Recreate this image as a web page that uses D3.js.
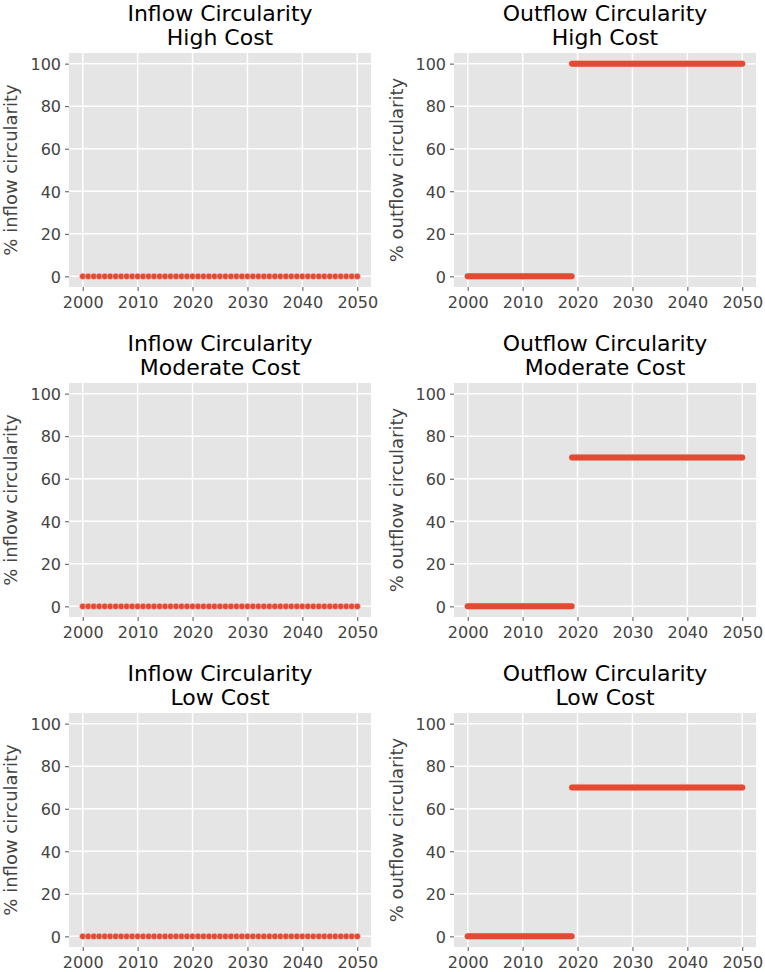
<!DOCTYPE html>
<html>
<head>
<meta charset="utf-8">
<script src="https://cdn.jsdelivr.net/npm/d3@7"></script>
<style>
  body { margin: 0; background: #fff; }
  svg { display: block; font-family: 'DejaVu Sans', sans-serif; }
</style>
</head>
<body>
<svg id="chart"></svg>
<script>
// years shown on every panel
const years = [
  2000, 2001, 2002, 2003, 2004, 2005, 2006, 2007, 2008, 2009,
  2010, 2011, 2012, 2013, 2014, 2015, 2016, 2017, 2018, 2019,
  2020, 2021, 2022, 2023, 2024, 2025, 2026, 2027, 2028, 2029,
  2030, 2031, 2032, 2033, 2034, 2035, 2036, 2037, 2038, 2039,
  2040, 2041, 2042, 2043, 2044, 2045, 2046, 2047, 2048, 2049, 2050
];

const inflowHigh = [
  0, 0, 0, 0, 0, 0, 0, 0, 0, 0, 0, 0, 0, 0, 0, 0, 0, 0, 0, 0, 0, 0, 0, 0, 0,
  0, 0, 0, 0, 0, 0, 0, 0, 0, 0, 0, 0, 0, 0, 0, 0, 0, 0, 0, 0, 0, 0, 0, 0, 0, 0
];
const inflowModerate = [
  0, 0, 0, 0, 0, 0, 0, 0, 0, 0, 0, 0, 0, 0, 0, 0, 0, 0, 0, 0, 0, 0, 0, 0, 0,
  0, 0, 0, 0, 0, 0, 0, 0, 0, 0, 0, 0, 0, 0, 0, 0, 0, 0, 0, 0, 0, 0, 0, 0, 0, 0
];
const inflowLow = [
  0, 0, 0, 0, 0, 0, 0, 0, 0, 0, 0, 0, 0, 0, 0, 0, 0, 0, 0, 0, 0, 0, 0, 0, 0,
  0, 0, 0, 0, 0, 0, 0, 0, 0, 0, 0, 0, 0, 0, 0, 0, 0, 0, 0, 0, 0, 0, 0, 0, 0, 0
];

// outflow is sampled densely, so it is kept as [start, end, value] runs
const outflowHigh = [[2000, 2018.92, 0], [2019, 2050, 100]];
const outflowModerate = [[2000, 2018.92, 0], [2019, 2050, 70]];
const outflowLow = [[2000, 2018.92, 0], [2019, 2050, 70]];

const costLabels = ['High Cost', 'Moderate Cost', 'Low Cost'];
const xTicks = [2000, 2010, 2020, 2030, 2040, 2050];
const yTicks = [0, 20, 40, 60, 80, 100];

const inflowSeries = [inflowHigh, inflowModerate, inflowLow];
const outflowSeries = [outflowHigh, outflowModerate, outflowLow];

const RED = '#E24A33';

const config = {
  width: 765,
  height: 972,
  colLeft: [69, 454],
  colWidth: 302,
  rowTop: [53, 383, 713],
  plotHeight: 234,
  ylabelX: [11, 397]
};

createPanels(config);

function createPanels(config) {
  const svg = d3.select('#chart')
    .attr('width', config.width)
    .attr('height', config.height);

  config.rowTop.forEach((top, row) => {
    drawPanel(svg, config, {
      left: config.colLeft[0], top,
      title: ['Inflow Circularity', costLabels[row]],
      ylabel: '% inflow circularity',
      ylabelX: config.ylabelX[0],
      kind: 'points',
      data: inflowSeries[row]
    });
    drawPanel(svg, config, {
      left: config.colLeft[1], top,
      title: ['Outflow Circularity', costLabels[row]],
      ylabel: '% outflow circularity',
      ylabelX: config.ylabelX[1],
      kind: 'runs',
      data: outflowSeries[row]
    });
  });
}

function drawPanel(svg, config, panel) {
  const w = config.colWidth;
  const h = config.plotHeight;
  const x = d3.scaleLinear().domain([1997.5, 2052.5]).range([0, w]);
  const y = d3.scaleLinear().domain([-5, 105]).range([h, 0]);

  const g = svg.append('g')
    .attr('transform', `translate(${panel.left},${panel.top})`);

  g.append('rect')
    .attr('width', w)
    .attr('height', h)
    .attr('fill', '#E5E5E5');

  // grid
  g.selectAll('.xgrid')
    .data(xTicks)
    .enter()
    .append('line')
    .attr('x1', d => x(d)).attr('x2', d => x(d))
    .attr('y1', 0).attr('y2', h)
    .attr('stroke', '#fff')
    .attr('stroke-width', 1.5);
  g.selectAll('.ygrid')
    .data(yTicks)
    .enter()
    .append('line')
    .attr('y1', d => y(d)).attr('y2', d => y(d))
    .attr('x1', 0).attr('x2', w)
    .attr('stroke', '#fff')
    .attr('stroke-width', 1.5);

  // axes
  const xAxis = g.append('g')
    .attr('transform', `translate(0,${h})`)
    .call(d3.axisBottom(x).tickValues(xTicks).tickFormat(d3.format('d')).tickSize(4).tickPadding(5));
  const yAxis = g.append('g')
    .call(d3.axisLeft(y).tickValues(yTicks).tickSize(4).tickPadding(4));
  [xAxis, yAxis].forEach(ax => {
    ax.select('.domain').remove();
    ax.selectAll('line').attr('stroke', '#555555').attr('stroke-width', 1);
    ax.selectAll('text')
      .attr('fill', '#444444')
      .style('font-size', '16px')
      .style('font-family', "'DejaVu Sans', sans-serif");
  });
  xAxis.selectAll('text').attr('dy', '0.72em');
  yAxis.selectAll('text').attr('dy', '0.36em');

  // data
  if (panel.kind === 'points') {
    const pts = years.map((yr, i) => [yr, panel.data[i]]);
    g.append('path')
      .datum(pts)
      .attr('fill', 'none')
      .attr('stroke', RED)
      .attr('stroke-width', 1.5)
      .attr('d', d3.line().x(d => x(d[0])).y(d => y(d[1])));
    g.selectAll('.dot')
      .data(pts)
      .enter()
      .append('circle')
      .attr('cx', d => x(d[0]))
      .attr('cy', d => y(d[1]))
      .attr('r', 3.2)
      .attr('fill', RED)
      .attr('stroke', '#f3d6d0')
      .attr('stroke-width', 0.5);
  } else {
    const runLine = d3.line().x(d => x(d[0])).y(d => y(d[1]));
    panel.data.forEach(run => {
      const seg = [[run[0], run[2]], [run[1], run[2]]];
      g.append('path')
        .datum(seg)
        .attr('fill', 'none')
        .attr('stroke', '#f3d6d0')
        .attr('stroke-width', 7.3)
        .attr('stroke-linecap', 'round')
        .attr('d', runLine);
      g.append('path')
        .datum(seg)
        .attr('fill', 'none')
        .attr('stroke', RED)
        .attr('stroke-width', 6)
        .attr('stroke-linecap', 'round')
        .attr('d', runLine);
    });
  }

  // title
  const title = g.append('text')
    .attr('text-anchor', 'middle')
    .attr('fill', '#000')
    .style('font-size', '22px');
  panel.title.forEach((line, i) => {
    title.append('tspan')
      .attr('x', w / 2)
      .attr('y', i === 0 ? -32.5 : -8.3)
      .text(line);
  });

  // y label
  g.append('text')
    .attr('transform', `translate(${panel.ylabelX - panel.left},${y(50)}) rotate(-90)`)
    .attr('text-anchor', 'middle')
    .attr('dy', '0.36em')
    .attr('fill', '#444444')
    .style('font-size', '18px')
    .text(panel.ylabel);
}
</script>
</body>
</html>
